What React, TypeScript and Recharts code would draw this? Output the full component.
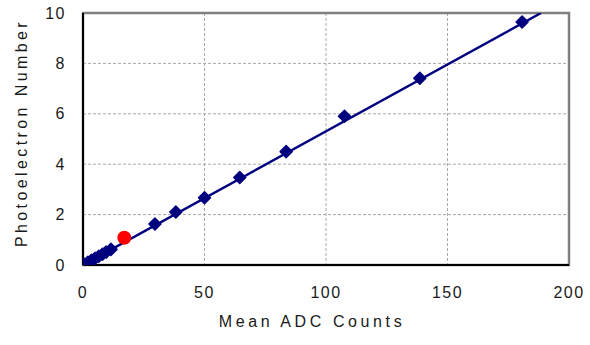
import React from 'react';
import { ScatterChart, Scatter, XAxis, YAxis, CartesianGrid, ReferenceArea, Label } from 'recharts';

const adcCounts = [0.5, 2, 3.5, 5, 6.5, 8, 9.5, 11.5, 29.6, 38.2, 50, 64.5, 83.6, 107.6, 138.6, 180.7];
const peNumbers = [0.03, 0.11, 0.19, 0.27, 0.35, 0.43, 0.51, 0.62, 1.63, 2.1, 2.67, 3.47, 4.5, 5.9, 7.41, 9.64];
const refAdc = [17];
const refPe = [1.08];
const fitAdc = [0, 188.5];
const fitPe = [0, 10];
const xTicks = [0, 50, 100, 150, 200];
const yTicks = [0, 2, 4, 6, 8, 10];

const points = adcCounts.map((x, i) => ({ x, y: peNumbers[i] }));
const refPoints = refAdc.map((x, i) => ({ x, y: refPe[i] }));
const fitPoints = fitAdc.map((x, i) => ({ x, y: fitPe[i] }));

const NAVY = '#00007f';
const FONT = 'Liberation Sans, Arial, sans-serif';

const Diamond = (props: any) => {
  const { cx, cy } = props;
  const r = 6;
  return <polygon points={`${cx},${cy - r} ${cx + r},${cy} ${cx},${cy + r} ${cx - r},${cy}`} fill={NAVY} stroke={NAVY} strokeWidth={1.5} strokeLinejoin="round" />;
};

const RedDot = (props: any) => {
  const { cx, cy } = props;
  return <circle cx={cx} cy={cy} r={7} fill="#ff0000" />;
};

const NoShape = () => null;

export default function App() {
  return (
    <div style={{ position: 'absolute', left: 0, top: 0, width: 590, height: 345, background: '#fff' }}>
      <ScatterChart width={590} height={345} margin={{ top: 13, right: 21, bottom: 0, left: 0 }}>
        <CartesianGrid stroke="#a8a8a8" strokeDasharray="3 2" vertical horizontal />
        <XAxis
          type="number"
          dataKey="x"
          domain={[0, 200]}
          ticks={xTicks}
          height={80}
          tickSize={0}
          tickMargin={22}
          axisLine={{ stroke: '#000', strokeWidth: 2 }}
          tick={{ fill: '#1a1a1a', fontSize: 16, fontFamily: FONT, letterSpacing: 1.5 }}
          allowDataOverflow
        >
          <Label
            content={(p: any) => {
              const vb = p.viewBox;
              return (
                <text x={vb.x + vb.width / 2 - 14} y={327} textAnchor="middle" fill="#1a1a1a" fontSize={16} fontFamily={FONT} letterSpacing={3.6}>
                  Mean ADC Counts
                </text>
              );
            }}
          />
        </XAxis>
        <YAxis
          type="number"
          dataKey="y"
          domain={[0, 10]}
          ticks={yTicks}
          width={83}
          tickSize={0}
          tickMargin={17}
          axisLine={{ stroke: '#000', strokeWidth: 2 }}
          tick={{ fill: '#1a1a1a', fontSize: 16, fontFamily: FONT, letterSpacing: 1.5 }}
          allowDataOverflow
        >
          <Label
            content={(p: any) => {
              const vb = p.viewBox;
              const cy = vb.y + vb.height / 2 - 6;
              return (
                <text x={27} y={cy} transform={`rotate(-90 27 ${cy})`} textAnchor="middle" fill="#1a1a1a" fontSize={16} fontFamily={FONT} letterSpacing={3.4}>
                  Photoelectron Number
                </text>
              );
            }}
          />
        </YAxis>
        <ReferenceArea x1={0} x2={200} y1={0} y2={10} fill="none" stroke="#808080" strokeWidth={2.5} ifOverflow="visible" />
        <Scatter data={fitPoints} line={{ stroke: NAVY, strokeWidth: 2.5 }} shape={NoShape} isAnimationActive={false} />
        <Scatter data={points} shape={Diamond} isAnimationActive={false} />
        <Scatter data={refPoints} shape={RedDot} isAnimationActive={false} />
      </ScatterChart>
    </div>
  );
}
